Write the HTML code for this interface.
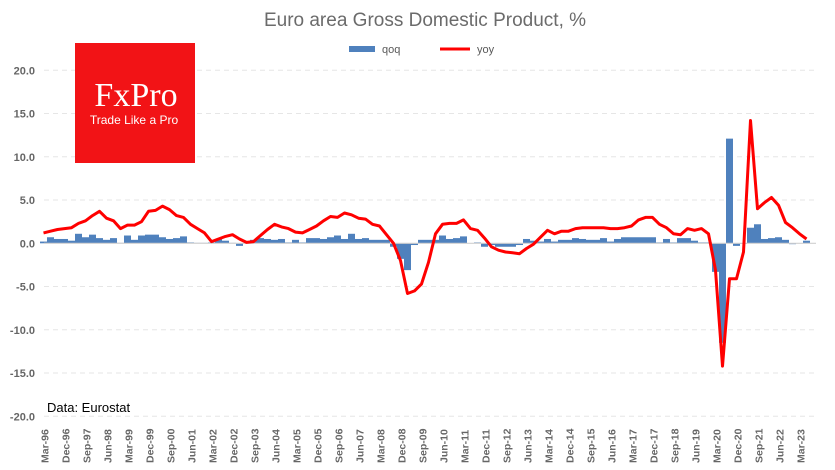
<!DOCTYPE html>
<html><head><meta charset="utf-8"><style>
body{margin:0;background:#fff;width:835px;height:470px;overflow:hidden}
svg{display:block}
</style></head><body>
<svg id="c" width="835" height="470" xmlns="http://www.w3.org/2000/svg" font-family="Liberation Sans, sans-serif"></svg>
<script>
var yoy=[1.2,1.4,1.6,1.7,1.8,2.3,2.6,3.2,3.7,2.9,2.6,1.7,2.1,2.1,2.5,3.7,3.8,4.3,3.9,3.2,3.0,2.2,1.7,1.2,0.2,0.5,0.8,1.0,0.5,0.1,0.2,0.9,1.6,2.2,1.9,1.7,1.3,1.2,1.6,2.0,2.6,3.1,3.0,3.5,3.3,2.9,2.8,2.2,2.0,1.0,0.0,-2.0,-5.8,-5.5,-4.7,-2.2,1.1,2.2,2.3,2.3,2.7,1.7,1.5,0.6,-0.4,-0.8,-1.0,-1.1,-1.2,-0.6,-0.1,0.7,1.5,1.1,1.4,1.4,1.7,1.8,1.8,1.8,1.8,1.7,1.7,1.8,2.0,2.7,3.0,3.0,2.2,1.8,1.1,1.0,1.7,1.5,1.7,1.1,-3.1,-14.2,-4.1,-4.1,-1.0,14.2,4.0,4.7,5.3,4.4,2.4,1.8,1.1,0.5];
var qoq=[0.2,0.7,0.5,0.5,0.3,1.1,0.7,1.0,0.6,0.4,0.6,0.05,0.9,0.4,0.9,1.0,1.0,0.7,0.5,0.6,0.8,0.1,0.05,0.05,0.1,0.5,0.3,0.05,-0.3,0.0,0.4,0.6,0.5,0.4,0.5,0.1,0.4,0.1,0.6,0.6,0.5,0.7,0.9,0.5,1.1,0.5,0.6,0.4,0.4,0.4,-0.4,-1.8,-3.1,-0.2,0.4,0.4,0.4,0.9,0.5,0.6,0.8,0.0,0.1,-0.4,-0.2,-0.4,-0.4,-0.4,-0.2,0.5,0.3,0.2,0.5,0.2,0.4,0.4,0.6,0.5,0.4,0.4,0.6,0.2,0.5,0.7,0.7,0.7,0.7,0.7,0.1,0.5,0.1,0.6,0.6,0.3,0.1,0.1,-3.3,-11.5,12.1,-0.3,-0.05,1.8,2.2,0.5,0.6,0.7,0.4,-0.1,0.02,0.3];
var Y=function(v){return 243.3-v*8.65};var X=function(i){return 43.5+7*i};
var s='';
s+='<text x="425" y="26" text-anchor="middle" font-size="19" fill="#6b6b6b">Euro area Gross Domestic Product, %</text>';
for(var k=-4;k<=4;k++){var v=k*5,y=Y(v);
 if(k!=0)s+='<line x1="44" x2="816" y1="'+y+'" y2="'+y+'" stroke="#e6e6e6" stroke-dasharray="5,4"/>';
 s+='<text x="35" y="'+(y+4)+'" text-anchor="end" font-size="11" font-weight="bold" fill="#666">'+v.toFixed(1)+'</text>';}
for(var i=0;i<qoq.length;i++){var v=qoq[i],y=Y(Math.max(v,0)),h=Math.abs(v)*8.65;
 s+='<rect x="'+(X(i)-3.5)+'" y="'+y+'" width="7" height="'+h+'" fill="#4f81bd"/>';}
s+='<line x1="44" x2="816" y1="243.3" y2="243.3" stroke="#d0d0d0" stroke-width="1.2"/>';
var p=yoy.map(function(v,i){return X(i)+','+Y(v).toFixed(1)}).join(' ');
s+='<polyline points="'+p+'" fill="none" stroke="#ff0000" stroke-width="3" stroke-linejoin="round"/>';
for(var i=0;i<=108;i+=3){
 var mon=['Mar','Jun','Sep','Dec'][i%4];var yy=(96+Math.floor(i/4))%100;
 var lab=mon+'-'+(yy<10?'0'+yy:yy);
 s+='<text transform="translate('+(X(i)+5)+',463) rotate(-90)" font-size="10.5" font-weight="bold" fill="#666">'+lab+'</text>';}
s+='<rect x="349" y="46" width="26" height="6" fill="#4f81bd"/><text x="382" y="53" font-size="11" fill="#595959">qoq</text>';
s+='<line x1="440" x2="470" y1="49" y2="49" stroke="#ff0000" stroke-width="3"/><text x="477" y="53" font-size="11" fill="#595959">yoy</text>';
s+='<rect x="75" y="43" width="120" height="120" fill="#f21316"/>';
s+='<text x="136" y="106" text-anchor="middle" font-family="Liberation Serif, serif" font-size="34" fill="#fff">FxPro</text>';
s+='<text x="134" y="124" text-anchor="middle" font-size="12" fill="#fff">Trade Like a Pro</text>';
s+='<text x="47" y="412" font-size="13" fill="#000">Data: Eurostat</text>';
document.getElementById('c').innerHTML=s;
</script>
</body></html>
